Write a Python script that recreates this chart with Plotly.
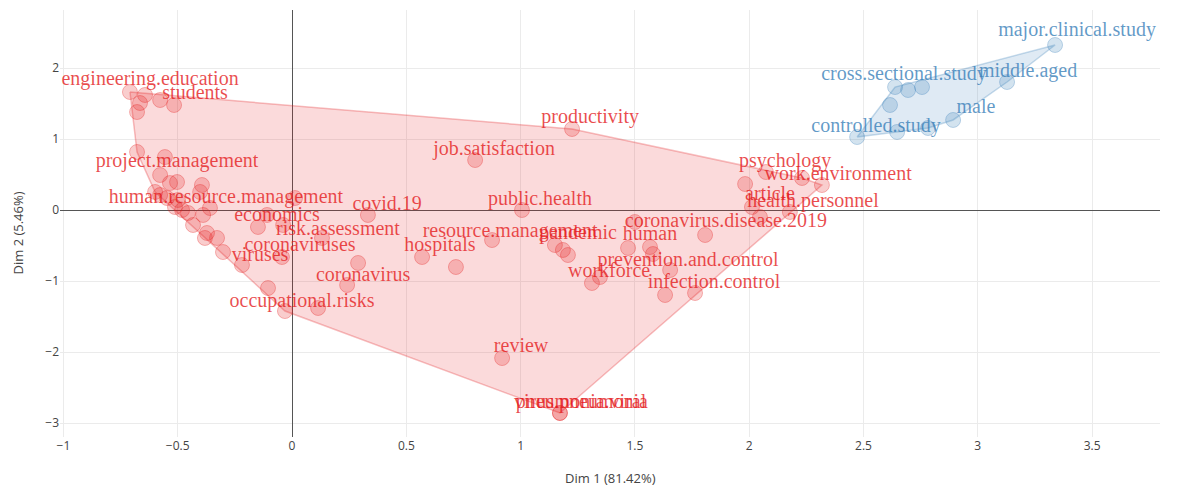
import plotly.graph_objects as go

# ---- data (Dim 1, Dim 2 coordinates) ----
red_x = [-0.709, -0.643, -0.665, -0.678, -0.577, -0.516, -0.678, -0.556, -0.577, -0.503,
         -0.599, -0.577, -0.534, -0.394, -0.402, -0.499, -0.512, -0.547, -0.359, -0.389,
         -0.455, -0.481, -0.433, -0.372, -0.328, -0.381, -0.302, -0.219, -0.105, -0.031,
         0.114, 0.241, 0.289, -0.044, 0.131, -0.039, -0.149, -0.109, 0.013, 0.332,
         0.569, 0.717, 0.875, 1.006, 0.801, 1.225, 0.919, 1.172, 1.172, 1.150,
         1.185, 1.207, 1.312, 1.347, 1.470, 1.500, 1.566, 1.579, 1.654, 1.632,
         1.763, 1.807, 1.982, 2.073, 2.231, 2.318, 2.012, 2.047, 2.178]
red_y = [1.662, 1.620, 1.507, 1.380, 1.549, 1.479, 0.817, 0.746, 0.493, 0.394,
         0.254, 0.211, 0.380, 0.352, 0.254, 0.141, 0.042, 0.169, 0.028, -0.070,
         -0.042, 0.000, -0.211, -0.324, -0.394, -0.394, -0.592, -0.775, -1.099, -1.423,
         -1.380, -1.056, -0.746, -0.662, -0.394, -0.211, -0.239, -0.070, 0.169, -0.070,
         -0.662, -0.803, -0.423, 0.000, 0.704, 1.141, -2.085, -2.859, -2.859, -0.493,
         -0.563, -0.634, -1.028, -0.944, -0.535, -0.169, -0.521, -0.620, -0.845, -1.197,
         -1.169, -0.352, 0.366, 0.535, 0.451, 0.352, 0.042, -0.099, -0.028]

blue_x = [3.338, 3.128, 2.638, 2.695, 2.756, 2.616, 2.472, 2.647, 2.782, 2.892]
blue_y = [2.324, 1.803, 1.732, 1.690, 1.732, 1.479, 1.028, 1.099, 1.155, 1.268]

red_labels = ["engineering.education", "students", "productivity", "job.satisfaction",
              "project.management", "psychology", "work.environment",
              "human.resource.management", "covid.19", "public.health", "article",
              "health.personnel", "economics", "coronavirus.disease.2019",
              "risk.assessment", "resource.management", "pandemic", "human",
              "coronaviruses", "hospitals", "viruses", "prevention.and.control",
              "coronavirus", "workforce", "infection.control", "occupational.risks",
              "review", "pneumonia.viral", "virus.pneumonia"]
red_lab_x = [-0.621, -0.424, 1.304, 0.884, -0.503, 2.157, 2.389, -0.289, 0.416, 1.085,
             2.091, 2.279, -0.066, 1.898, 0.201, 0.954, 1.251, 1.566, 0.035, 0.647,
             -0.140, 1.732, 0.311, 1.387, 1.846, 0.044, 1.002, 1.264, 1.264]
red_lab_y = [1.831, 1.634, 1.296, 0.845, 0.676, 0.676, 0.493, 0.169, 0.070, 0.141,
             0.211, 0.113, -0.085, -0.169, -0.282, -0.310, -0.338, -0.352, -0.507, -0.507,
             -0.648, -0.718, -0.930, -0.873, -1.028, -1.296, -1.930, -2.718, -2.718]

blue_labels = ["major.clinical.study", "cross.sectional.study", "middle.aged", "male",
               "controlled.study"]
blue_lab_x = [3.434, 2.677, 3.220, 2.992, 2.555]
blue_lab_y = [2.521, 1.901, 1.944, 1.437, 1.169]

x_ticks = [-1, -0.5, 0, 0.5, 1, 1.5, 2, 2.5, 3, 3.5]
y_ticks = [-3, -2, -1, 0, 1, 2]
x_title = "Dim 1 (81.42%)"
y_title = "Dim 2 (5.46%)"


def hull(xs, ys):
    pts = sorted(set(zip(xs, ys)))
    if len(pts) < 3:
        return pts

    def cross(o, a, b):
        return (a[0] - o[0]) * (b[1] - o[1]) - (a[1] - o[1]) * (b[0] - o[0])

    lower, upper = [], []
    for p in pts:
        while len(lower) >= 2 and cross(lower[-2], lower[-1], p) <= 0:
            lower.pop()
        lower.append(p)
    for p in reversed(pts):
        while len(upper) >= 2 and cross(upper[-2], upper[-1], p) <= 0:
            upper.pop()
        upper.append(p)
    h = lower[:-1] + upper[:-1]
    h.append(h[0])
    return h


RED = (228, 26, 28)
BLUE = (55, 126, 184)


def rgba(c, a):
    return f"rgba({c[0]},{c[1]},{c[2]},{a})"


def fmt(t):
    return "\u2212" + str(abs(t)) if t < 0 else str(t)


fig = go.Figure()

for xs, ys, col in [(red_x, red_y, RED), (blue_x, blue_y, BLUE)]:
    h = hull(xs, ys)
    fig.add_trace(go.Scatter(
        x=[p[0] for p in h], y=[p[1] for p in h], mode="lines",
        fill="toself", fillcolor=rgba(col, 0.16),
        line=dict(color=rgba(col, 0.28), width=1.5),
        hoverinfo="skip", showlegend=False))

for xs, ys, col in [(red_x, red_y, RED), (blue_x, blue_y, BLUE)]:
    fig.add_trace(go.Scatter(
        x=xs, y=ys, mode="markers",
        marker=dict(size=15, color=rgba(col, 0.22),
                    line=dict(color=rgba(col, 0.3), width=1)),
        showlegend=False))

for labs, lx, ly, col in [(red_labels, red_lab_x, red_lab_y, RED),
                          (blue_labels, blue_lab_x, blue_lab_y, BLUE)]:
    fig.add_trace(go.Scatter(
        x=lx, y=ly, mode="text", text=labs, textposition="middle center",
        textfont=dict(family="Liberation Serif", size=20, color=rgba(col, 0.78)),
        showlegend=False))

fig.update_layout(
    width=1198, height=488,
    margin=dict(l=60, r=38, t=10, b=51),
    paper_bgcolor="white", plot_bgcolor="white",
    font=dict(family="Open Sans", size=12, color="#444"),
    showlegend=False,
    annotations=[
        dict(text=x_title, xref="paper", yref="paper", x=0.5, y=0,
             xanchor="center", yanchor="top", yshift=-30, showarrow=False,
             font=dict(size=13, color="#444")),
        dict(text=y_title, xref="paper", yref="paper", x=0, y=0.5,
             xanchor="center", yanchor="middle", xshift=-43, yshift=-10,
             textangle=-90, showarrow=False, font=dict(size=13, color="#444")),
    ],
)
fig.update_xaxes(
    range=[-1.015, 3.797], tickvals=x_ticks, ticktext=[fmt(t) for t in x_ticks],
    showgrid=True, gridcolor="#ebebeb", gridwidth=1,
    zeroline=True, zerolinecolor="#555", zerolinewidth=1,
    showline=False, ticks="", automargin=False,
)
fig.update_yaxes(
    range=[-3.197, 2.817], tickvals=y_ticks, ticktext=[fmt(t) for t in y_ticks],
    showgrid=True, gridcolor="#ebebeb", gridwidth=1,
    zeroline=True, zerolinecolor="#555", zerolinewidth=1,
    showline=False, ticks="", automargin=False,
)

fig.write_html("out.html")
